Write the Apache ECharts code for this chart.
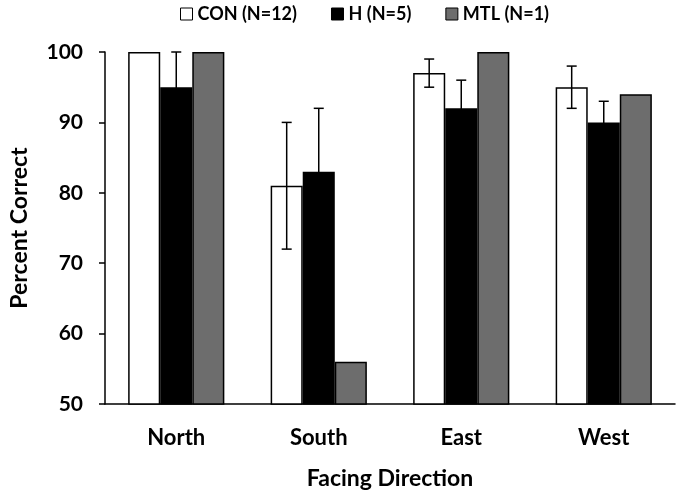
<!DOCTYPE html>
<html>
<head>
<meta charset="utf-8">
<script src="https://cdn.jsdelivr.net/npm/echarts@6/dist/echarts.min.js"></script>
<style>html,body{margin:0;padding:0;background:#fff;}#c{width:677px;height:495px;}</style>
</head>
<body>
<div id="c"></div>
<script>
var categories = ['North', 'South', 'East', 'West'];
var seriesNames = ['CON (N=12)', 'H (N=5)', 'MTL (N=1)'];
var conValues = [100, 81, 97, 95];
var hValues = [95, 83, 92, 90];
var mtlValues = [100, 56, 100, 94];
var conErr = [0, 9, 2, 3];
var hErr = [5, 9, 4, 3];
var yTicks = [50, 60, 70, 80, 90, 100];

var FONT = 'Lato';
var BW = 0.225;

function errSeries(vals, errs, idx) {
  var data = vals.map(function (v, i) { return [i, v - errs[i], v + errs[i]]; }).filter(function (d, i) { return errs[i] > 0; });
  return {
    type: 'custom',
    silent: true,
    z: 5,
    data: data,
    renderItem: function (params, api) {
      var cat = api.value(0);
      var lo = api.coord([cat, api.value(1)]);
      var hi = api.coord([cat, api.value(2)]);
      var w = api.size([1, 0])[0] * BW;
      var x = lo[0] + (idx - 1) * w;
      var cap = 5;
      var st = { stroke: '#000', lineWidth: 1.5 };
      return {
        type: 'group',
        children: [
          { type: 'line', shape: { x1: x, y1: lo[1], x2: x, y2: hi[1] }, style: st },
          { type: 'line', shape: { x1: x - cap, y1: hi[1], x2: x + cap, y2: hi[1] }, style: st },
          { type: 'line', shape: { x1: x - cap, y1: lo[1], x2: x + cap, y2: lo[1] }, style: st }
        ]
      };
    }
  };
}

var colors = ['#ffffff', '#000000', '#6d6d6d'];
var vals = [conValues, hValues, mtlValues];

var series = vals.map(function (v, i) {
  return {
    name: seriesNames[i],
    type: 'bar',
    data: v,
    barWidth: (BW * 100) + '%',
    barGap: '0%',
    itemStyle: { color: colors[i], borderColor: '#000', borderWidth: 1.5 }
  };
});
series.push(errSeries(conValues, conErr, 0));
series.push(errSeries(hValues, hErr, 1));

var chart = echarts.init(document.getElementById('c'), null, { renderer: 'canvas' });
chart.setOption({
  animation: false,
  backgroundColor: '#fff',
  legend: {
    data: seriesNames,
    top: 0,
    left: 175,
    icon: 'rect',
    itemWidth: 12,
    itemHeight: 12,
    itemGap: 34,
    textStyle: { fontFamily: FONT, fontWeight: 'bold', fontSize: 18, color: '#000' },
    itemStyle: { borderColor: '#000', borderWidth: 1 }
  },
  grid: { left: 89, right: 2, top: 52, bottom: 86 },
  xAxis: {
    type: 'category',
    data: categories,
    name: 'Facing Direction',
    nameLocation: 'middle',
    nameGap: 63,
    nameTextStyle: { fontFamily: FONT, fontWeight: 'bold', fontSize: 23, color: '#000' },
    axisLine: { lineStyle: { color: '#000', width: 1.5 } },
    axisTick: { show: false },
    axisLabel: { fontFamily: FONT, fontWeight: 'bold', fontSize: 22, color: '#000', margin: 23 }
  },
  yAxis: {
    type: 'value',
    min: yTicks[0],
    max: yTicks[yTicks.length - 1],
    interval: 10,
    name: 'Percent Correct',
    nameLocation: 'middle',
    nameGap: 74,
    nameTextStyle: { fontFamily: FONT, fontWeight: 'bold', fontSize: 23, color: '#000' },
    axisLine: { show: true, lineStyle: { color: '#000', width: 1.5 } },
    axisTick: { show: true, inside: false, length: 6, lineStyle: { color: '#000', width: 1.5 } },
    splitLine: { show: false },
    axisLabel: { fontFamily: FONT, fontWeight: 'bold', fontSize: 21, color: '#000', margin: 22 }
  },
  series: series
});
</script>
</body>
</html>
